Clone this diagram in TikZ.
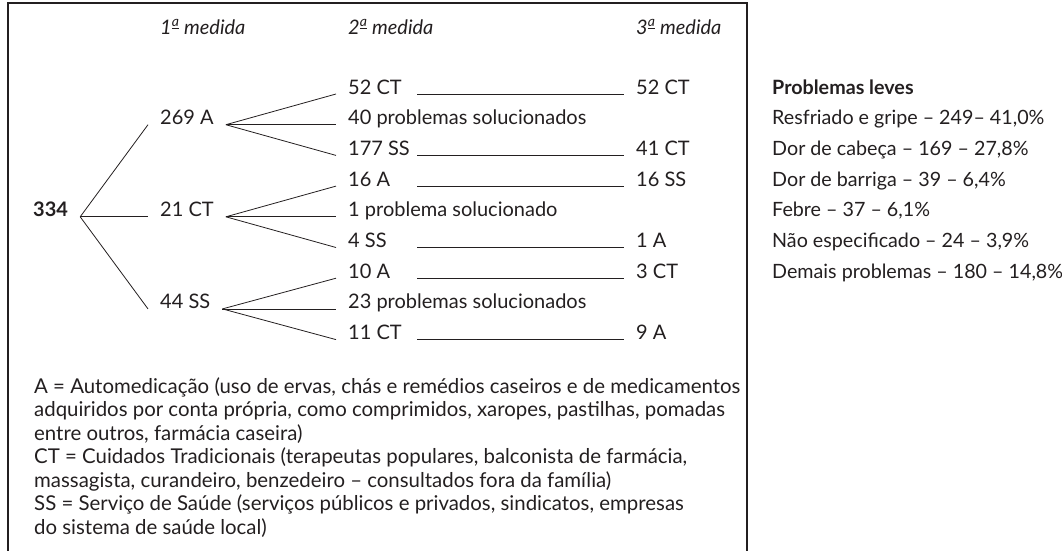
\documentclass[tikz,border=0pt]{standalone}
\usepackage{fontspec}
\setmainfont{Lato}
\definecolor{ink}{HTML}{231F20}
\newcommand{\ordfem}{\textsuperscript{\underline{a}}}
\begin{document}
\begin{tikzpicture}
  [x=1pt,y=-1pt,every node/.style={inner sep=0pt,anchor=base west,text=ink,font=\fontsize{19.7}{22}\selectfont}]
  \tikzstyle{tree} = [inner xsep=12pt,font=\fontsize{20}{23}\selectfont]
  \tikzstyle{head} = [font=\fontsize{20}{23}\selectfont\itshape]
  \tikzstyle{legend} = [anchor=north west,align=left,font=\fontsize{20.4}{23.5}\selectfont]
  \useasboundingbox (0,0) rectangle (1062,550);
  \draw[ink,line width=1.6pt] (8,551) -- (8,3) -- (747,3) -- (747,551);

  \node[head] (h1) at (160,34) {1\ordfem{} medida};
  \node[head] (h2) at (348,34) {2\ordfem{} medida};
  \node[head] (h3) at (636,34) {3\ordfem{} medida};

  \node[tree,font=\fontsize{20}{23}\selectfont\bfseries] (n0) at (21,216.8) {334};
  \node[tree] (a) at (148,124.7) {269 A};
  \node[tree] (b) at (148,216.8) {21 CT};
  \node[tree] (c) at (148,308.9) {44 SS};

  \node[tree] (a1) at (336,94)    {52 CT};
  \node[tree] (a2) at (336,124.7) {40 problemas solucionados};
  \node[tree] (a3) at (336,155.4) {177 SS};
  \node[tree] (b1) at (336,186.1) {16 A};
  \node[tree] (b2) at (336,216.8) {1 problema solucionado};
  \node[tree] (b3) at (336,247.5) {4 SS};
  \node[tree] (c1) at (336,278.2) {10 A};
  \node[tree] (c2) at (336,308.9) {23 problemas solucionados};
  \node[tree] (c3) at (336,339.6) {11 CT};

  \node[tree] (d1) at (624,94)    {52 CT};
  \node[tree] (d3) at (624,155.4) {41 CT};
  \node[tree] (e1) at (624,186.1) {16 SS};
  \node[tree] (e3) at (624,247.5) {1 A};
  \node[tree] (f1) at (624,278.2) {3 CT};
  \node[tree] (f3) at (624,339.6) {9 A};

\foreach \source /\dest in {n0/a,n0/b,n0/c,a/a1,a/a2,a/a3,b/b1,b/b2,b/b3,c/c1,c/c2,c/c3}
   \draw[ink,line width=0.8pt] (\source.base east) -- (\dest.base west);
\foreach \source /\dest in {a1/d1,a3/d3,b1/e1,b3/e3,c1/f1,c3/f3}
   \draw[ink,line width=0.8pt] ([xshift=81pt]\source.base west) -- (\dest.base west);

  \node[font=\fontsize{19.7}{22}\selectfont\bfseries] (p0) at (772,94) {Problemas leves};
  \node (p1) at (772,124.7) {Resfriado e gripe – 249– 41,0\%};
  \node (p2) at (772,155.4) {Dor de cabeça – 169 – 27,8\%};
  \node (p3) at (772,186.1) {Dor de barriga – 39 – 6,4\%};
  \node (p4) at (772,216.8) {Febre – 37 – 6,1\%};
  \node (p5) at (772,247.5) {Não especificado – 24 – 3,9\%};
  \node (p6) at (772,278.2) {Demais problemas – 180 – 14,8\%};

  \node[legend] (key) at (34,377) {A = Automedicação (uso de ervas, chás e remédios caseiros e de medicamentos\\
    adquiridos por conta própria, como comprimidos, xaropes, pastilhas, pomadas\\
    entre outros, farmácia caseira)\\
    CT = Cuidados Tradicionais (terapeutas populares, balconista de farmácia,\\
    massagista, curandeiro, benzedeiro – consultados fora da família)\\
    SS = Serviço de Saúde (serviços públicos e privados, sindicatos, empresas\\
    do sistema de saúde local)};
  \end{tikzpicture}
\end{document}
